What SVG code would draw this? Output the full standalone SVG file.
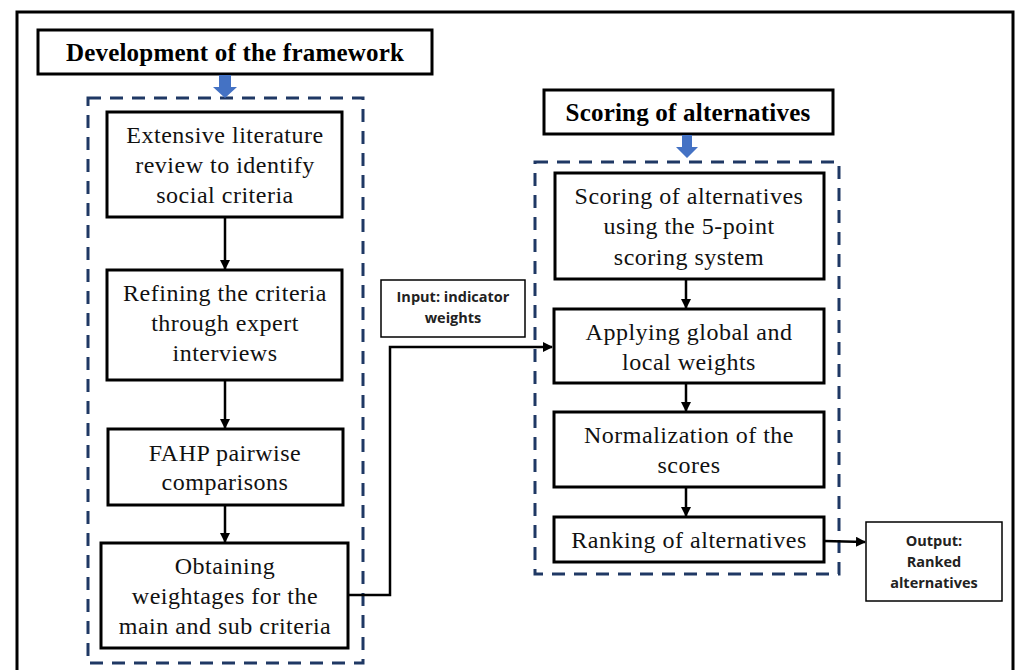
<svg xmlns="http://www.w3.org/2000/svg" width="1016" height="670" viewBox="0 0 1016 670">
  <defs>
    <marker id="ah" markerWidth="10" markerHeight="10" refX="9" refY="5" orient="auto" markerUnits="userSpaceOnUse">
      <path d="M0,0 L10,5 L0,10 z" fill="#000"/>
    </marker>
    <style>
      .box { fill: #fff; stroke: #000; stroke-width: 3; }
      .thin { fill: #fff; stroke: #000; stroke-width: 1.5; }
      .dash { fill: none; stroke: #1f3864; stroke-width: 3; stroke-dasharray: 13 9; }
      .t { font-family: "Liberation Serif", "Times New Roman", serif; font-size: 24px; letter-spacing: 0.5px; fill: #111; text-anchor: middle; }
      .tb { font-family: "Liberation Serif", "Times New Roman", serif; font-size: 25px; letter-spacing: 0.2px; font-weight: bold; fill: #000; text-anchor: middle; }
      .s { font-family: "Open Sans", "Liberation Sans", sans-serif; font-size: 14.5px; font-weight: bold; fill: #222; text-anchor: middle; }
      .con { fill: none; stroke: #000; stroke-width: 2.5; }
      .blue { fill: #4472c4; }
    </style>
  </defs>
  <rect width="1016" height="670" fill="#fff"/>
  <!-- outer frame -->
  <path d="M17,672 V12 H1013 V672" fill="none" stroke="#000" stroke-width="3"/>

  <!-- dashed groups -->
  <rect class="dash" x="88" y="98" width="275" height="565"/>
  <rect class="dash" x="535" y="162" width="304" height="412"/>

  <g id="title-dev">
    <rect class="box" x="38" y="30" width="394" height="44"/>
    <text class="tb" x="235" y="61">Development of the framework</text>
  </g>
  <g id="title-score">
    <rect class="box" x="544" y="90" width="289" height="44"/>
    <text class="tb" x="688" y="121">Scoring of alternatives</text>
  </g>

  <g id="n1">
    <rect class="box" x="107" y="112" width="235" height="105"/>
    <text class="t" x="225" y="143">Extensive literature</text>
    <text class="t" x="225" y="173">review to identify</text>
    <text class="t" x="225" y="203">social criteria</text>
  </g>
  <g id="n2">
    <rect class="box" x="107" y="270" width="235" height="110"/>
    <text class="t" x="225" y="301">Refining the criteria</text>
    <text class="t" x="225" y="331">through expert</text>
    <text class="t" x="225" y="361">interviews</text>
  </g>
  <g id="n3">
    <rect class="box" x="108" y="429" width="235" height="76"/>
    <text class="t" x="225" y="461">FAHP pairwise</text>
    <text class="t" x="225" y="490">comparisons</text>
  </g>
  <g id="n4">
    <rect class="box" x="101" y="543" width="247" height="105"/>
    <text class="t" x="225" y="574">Obtaining</text>
    <text class="t" x="225" y="604">weightages for the</text>
    <text class="t" x="225" y="634">main and sub criteria</text>
  </g>

  <g id="input">
    <rect class="thin" x="381" y="280" width="144" height="57"/>
    <text class="s" x="453" y="302">Input: indicator</text>
    <text class="s" x="453" y="323">weights</text>
  </g>

  <g id="m1">
    <rect class="box" x="555" y="173" width="269" height="106"/>
    <text class="t" x="689" y="204">Scoring of alternatives</text>
    <text class="t" x="689" y="234">using the 5-point</text>
    <text class="t" x="689" y="265">scoring system</text>
  </g>
  <g id="m2">
    <rect class="box" x="554" y="309" width="270" height="74"/>
    <text class="t" x="689" y="340">Applying global and</text>
    <text class="t" x="689" y="370">local weights</text>
  </g>
  <g id="m3">
    <rect class="box" x="554" y="412" width="270" height="75"/>
    <text class="t" x="689" y="443">Normalization of the</text>
    <text class="t" x="689" y="473">scores</text>
  </g>
  <g id="m4">
    <rect class="box" x="554" y="517" width="270" height="45"/>
    <text class="t" x="689" y="548">Ranking of alternatives</text>
  </g>

  <g id="output">
    <rect class="thin" x="866" y="522" width="136" height="79"/>
    <text class="s" x="934" y="546">Output:</text>
    <text class="s" x="934" y="567">Ranked</text>
    <text class="s" x="934" y="588">alternatives</text>
  </g>

  <g id="connectors">
    <path class="blue" d="M219,75 H231 V87 H237 L225,98 L213,87 H219 Z"/>
    <path class="blue" d="M682,135 H692 V147 H698 L687,158 L676,147 H682 Z"/>
    <line class="con" x1="225" y1="217" x2="225" y2="269" marker-end="url(#ah)"/>
    <line class="con" x1="225" y1="380" x2="225" y2="428" marker-end="url(#ah)"/>
    <line class="con" x1="225" y1="505" x2="225" y2="542" marker-end="url(#ah)"/>
    <path class="con" d="M348,595 H390 V347 H552" marker-end="url(#ah)"/>
    <line class="con" x1="686" y1="279" x2="686" y2="308" marker-end="url(#ah)"/>
    <line class="con" x1="686" y1="383" x2="686" y2="411" marker-end="url(#ah)"/>
    <line class="con" x1="686" y1="487" x2="686" y2="516" marker-end="url(#ah)"/>
    <line class="con" x1="824" y1="541" x2="865" y2="542" marker-end="url(#ah)"/>
  </g>
</svg>
